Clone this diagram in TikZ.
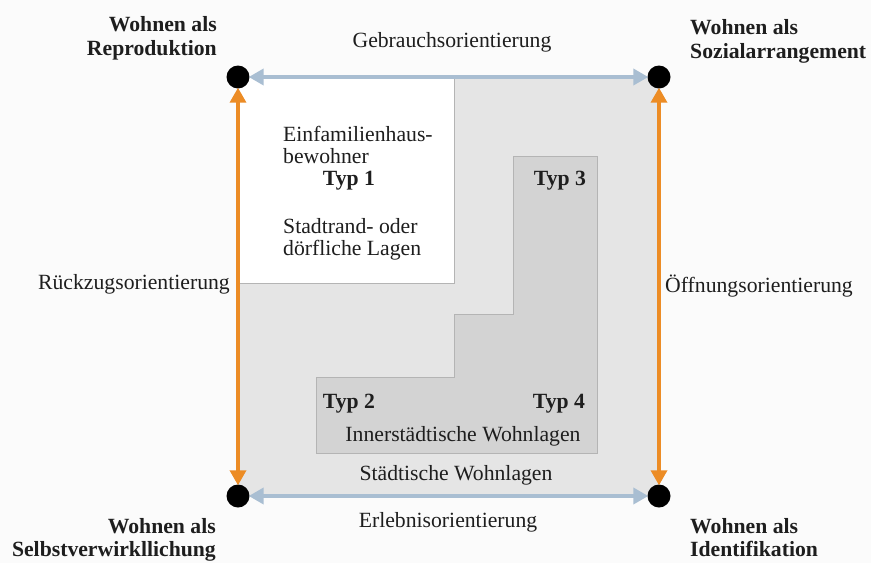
\documentclass[tikz,border=0pt]{standalone}
\usepackage{fontspec}
\setmainfont{Liberation Serif}
\usetikzlibrary{arrows.meta}
\definecolor{bgcol}{HTML}{FBFBFB}
\definecolor{fieldgrey}{HTML}{E5E5E5}
\definecolor{innergrey}{HTML}{D3D3D3}
\definecolor{edgegrey}{HTML}{B4B4B4}
\definecolor{axisblue}{HTML}{A9BED2}
\definecolor{axisorange}{HTML}{EC8C25}
\definecolor{ink}{HTML}{1E1E1E}
\tikzset{
  txt/.style={font=\fontsize{21.7}{24}\selectfont, text=ink, inner sep=0pt},
  bold/.style={txt, font=\fontsize{21.7}{23.5}\selectfont\bfseries, align=left},
  boldr/.style={bold, align=right},
  corner/.style={circle, fill=black, minimum size=23pt, inner sep=0pt},
  bluearrow/.style={draw=axisblue, line width=4pt,
    {Triangle[length=15pt,width=16pt]}-{Triangle[length=15pt,width=16pt]}, shorten <=-1pt, shorten >=-1pt},
  orangearrow/.style={draw=axisorange, line width=3.4pt,
    {Triangle[length=15pt,width=16pt]}-{Triangle[length=15pt,width=16pt]}, shorten <=-1pt, shorten >=-1pt}
}
\begin{document}
\begin{tikzpicture}[x=1pt, y=-1pt]
  \useasboundingbox (0,0) rectangle (871,563);
  \fill[bgcol] (0,0) rectangle (871,563);

  % field of the four orientations
  \fill[fieldgrey] (238,77) rectangle (659,496);
  % white area of type 1
  \fill[white] (238,77) rectangle (454,283);
  \draw[edgegrey, line width=1pt] (454,77) -- (454,283) -- (238,283);
  % inner-city area of types 2 to 4
  \draw[edgegrey, fill=innergrey, line width=1pt]
    (316,377) -- (454,377) -- (454,314) -- (513,314) -- (513,156)
    -- (597,156) -- (597,453) -- (316,453) -- cycle;

  % corner points
  \node[corner] (tl) at (238,77) {};
  \node[corner] (tr) at (659,77) {};
  \node[corner] (bl) at (238,496) {};
  \node[corner] (br) at (659,496) {};

  % axes
  \draw[bluearrow] (tl) -- (tr);
  \draw[bluearrow] (bl) -- (br);
  \draw[orangearrow] (tl) -- (bl);
  \draw[orangearrow] (tr) -- (br);

  % axis labels
  \node[txt] (gebrauch) at (452,42) {Gebrauchsorientierung};
  \node[txt] (erlebnis) at (448,522) {Erlebnisorientierung};
  \node[txt, anchor=east] (rueckzug) at (230,284) {Rückzugsorientierung};
  \node[txt, anchor=west] (oeffnung) at (665,286) {Öffnungsorientierung};

  % corner labels
  \node[boldr, anchor=south east] (lrepro) at (217,60) {Wohnen als\\Reproduktion};
  \node[bold, anchor=south west] (lsozial) at (690,63) {Wohnen als\\Sozialarrangement};
  \node[boldr, anchor=north east] (lselbst) at (216,518) {Wohnen als\\Selbstverwirkllichung};
  \node[bold, anchor=north west] (lident) at (690,518) {Wohnen als\\Identifikation};

  % type labels
  \node[txt, anchor=west] (efh1) at (283,134) {Einfamilienhaus-};
  \node[txt, anchor=west] (efh2) at (283,156) {bewohner};
  \node[txt, font=\fontsize{21.7}{24}\selectfont\bfseries] (typ1) at (349,181) {Typ 1};
  \node[txt, anchor=west] (rand1) at (283,226) {Stadtrand- oder};
  \node[txt, anchor=west] (rand2) at (283,250) {dörfliche Lagen};

  \node[txt, font=\fontsize{21.7}{24}\selectfont\bfseries] (typ3) at (560,181) {Typ 3};
  \node[txt, font=\fontsize{21.7}{24}\selectfont\bfseries] (typ2) at (349,404) {Typ 2};
  \node[txt, font=\fontsize{21.7}{24}\selectfont\bfseries] (typ4) at (559,404) {Typ 4};
  \node[txt] (inner) at (463,436) {Innerstädtische Wohnlagen};
  \node[txt] (staedt) at (456,475) {Städtische Wohnlagen};
\end{tikzpicture}
\end{document}
